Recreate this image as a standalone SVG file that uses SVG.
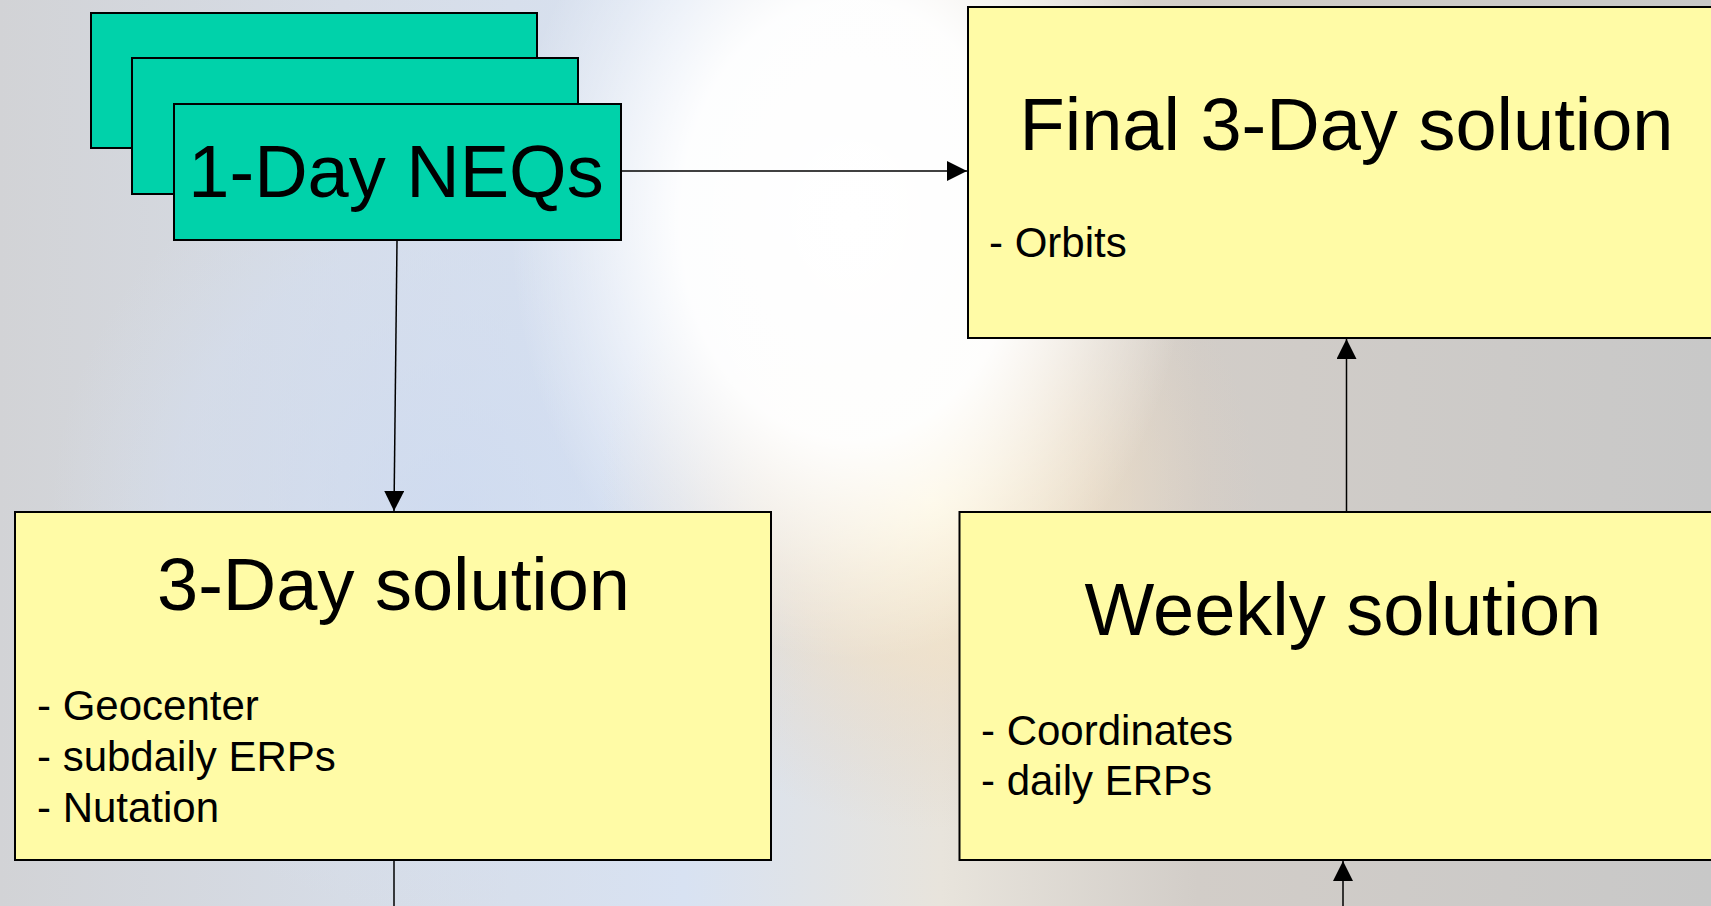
<svg xmlns="http://www.w3.org/2000/svg" width="1711" height="906" viewBox="0 0 1711 906">
<defs>
<style>
.box{stroke:#000;stroke-width:2}
.neq{fill:#00D2AA}
.sol{fill:#FFFBA6}
.title{font-family:"Liberation Sans",Arial,sans-serif;font-size:74px;fill:#000;text-anchor:middle}
.item{font-family:"Liberation Sans",Arial,sans-serif;font-size:42px;fill:#000}
.conn{stroke:#000;stroke-width:1.5;fill:none}
</style>
<marker id="arr" viewBox="0 0 20 20" refX="20" refY="10" markerWidth="20" markerHeight="20" markerUnits="userSpaceOnUse" orient="auto">
<path d="M0,0 L20,10 L0,20 Z" fill="#000"/>
</marker>
<linearGradient id="bgbase" x1="0" y1="0" x2="1" y2="0">
<stop offset="0" stop-color="#D2D3D6"/>
<stop offset="0.2" stop-color="#D6DCE6"/>
<stop offset="0.4" stop-color="#D8E2F2"/>
<stop offset="0.55" stop-color="#E8E4DC"/>
<stop offset="0.7" stop-color="#D2CDC8"/>
<stop offset="1" stop-color="#C8C8C8"/>
</linearGradient>
<radialGradient id="glow" cx="850" cy="220" r="400" gradientUnits="userSpaceOnUse" gradientTransform="translate(850 220) scale(0.85 1.1) translate(-850 -220)">
<stop offset="0" stop-color="#FFFFFF" stop-opacity="1"/>
<stop offset="0.5" stop-color="#FFFFFF" stop-opacity="0.95"/>
<stop offset="0.8" stop-color="#FFFFFF" stop-opacity="0.35"/>
<stop offset="1" stop-color="#FFFFFF" stop-opacity="0"/>
</radialGradient>
<radialGradient id="warm" cx="930" cy="500" r="330" gradientUnits="userSpaceOnUse">
<stop offset="0" stop-color="#FFF4D0" stop-opacity="0.9"/>
<stop offset="0.5" stop-color="#F2DEC0" stop-opacity="0.55"/>
<stop offset="1" stop-color="#E0D0C0" stop-opacity="0"/>
</radialGradient>
<radialGradient id="earth" cx="450" cy="520" r="400" gradientUnits="userSpaceOnUse">
<stop offset="0" stop-color="#CCDAF2" stop-opacity="0.7"/>
<stop offset="0.7" stop-color="#D4DFF2" stop-opacity="0.45"/>
<stop offset="1" stop-color="#D8E0EC" stop-opacity="0"/>
</radialGradient>
</defs>
<g id="background">
<rect x="0" y="0" width="1711" height="906" fill="url(#bgbase)"/>
<rect x="0" y="0" width="1711" height="906" fill="url(#earth)"/>
<rect x="0" y="0" width="1711" height="906" fill="url(#warm)"/>
<rect x="0" y="0" width="1711" height="906" fill="url(#glow)"/>
</g>
<g id="connectors">
<line class="conn" x1="621" y1="171" x2="967" y2="171" marker-end="url(#arr)"/>
<line class="conn" x1="397" y1="241" x2="394" y2="511" marker-end="url(#arr)"/>
<line class="conn" x1="394" y1="861" x2="394" y2="906"/>
<line class="conn" x1="1346.5" y1="511" x2="1346.5" y2="339" marker-end="url(#arr)"/>
<line class="conn" x1="1343" y1="906" x2="1343" y2="861" marker-end="url(#arr)"/>
</g>
<g id="neqs">
<rect class="box neq" x="91" y="13" width="446" height="135"/>
<rect class="box neq" x="132" y="58" width="446" height="136"/>
<rect class="box neq" x="174" y="104" width="447" height="136"/>
<text class="title" x="396" y="197">1-Day NEQs</text>
</g>
<g id="final">
<rect class="box sol" x="968" y="7" width="770" height="331"/>
<text class="title" x="1346.5" y="149.5">Final 3-Day solution</text>
<text class="item" x="989" y="257">- Orbits</text>
</g>
<g id="threeday">
<rect class="box sol" x="15" y="512" width="756" height="348"/>
<text class="title" x="393.5" y="610">3-Day solution</text>
<text class="item" x="37" y="720">- Geocenter</text>
<text class="item" x="37" y="771">- subdaily ERPs</text>
<text class="item" x="37" y="821.5">- Nutation</text>
</g>
<g id="weekly">
<rect class="box sol" x="959.5" y="512" width="780" height="348"/>
<text class="title" x="1343" y="635">Weekly solution</text>
<text class="item" x="981" y="745">- Coordinates</text>
<text class="item" x="981" y="795">- daily ERPs</text>
</g>
</svg>
